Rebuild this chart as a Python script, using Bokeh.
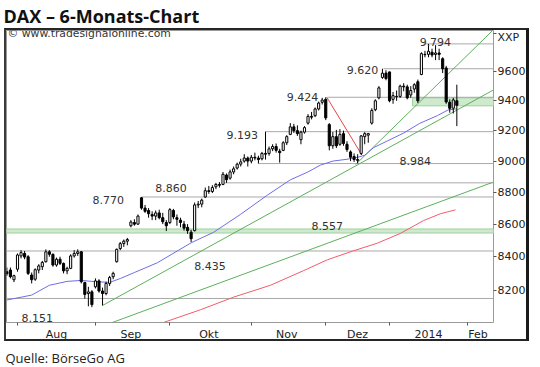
from bokeh.plotting import figure
from bokeh.layouts import column, row
from bokeh.models import Range1d, FixedTicker, NumeralTickFormatter, Label, Spacer
from bokeh.core.properties import value
from bokeh.embed import file_html
from bokeh.resources import INLINE

# ---- daily OHLC (trading-day index 0 = 29 Jul 2013) ----
opens = [8310, 8320, 8262, 8325, 8405, 8420, 8400, 8290, 8265, 8320, 8340, 8370, 8430, 8415, 8350, 8385,
         8360, 8315, 8330, 8405, 8420, 8430, 8245, 8180, 8190, 8220, 8255, 8195, 8180, 8240, 8280, 8370,
         8450, 8480, 8495, 8590, 8610, 8600, 8765, 8700, 8685, 8660, 8650, 8670, 8640, 8610, 8610, 8685,
         8640, 8625, 8600, 8580, 8550, 8560, 8720, 8725, 8770, 8810, 8805, 8835, 8850, 8850, 8910, 8890,
         8930, 8955, 8980, 9000, 9020, 9000, 9025, 9020, 9015, 9050, 9050, 9080, 9095, 9065, 9070, 9120,
         9175, 9225, 9200, 9140, 9190, 9250, 9295, 9300, 9345, 9390, 9410, 9240, 9100, 9160, 9110, 9180,
         9110, 9060, 9030, 9010, 9050, 9160, 9170, 9250, 9340, 9420, 9560, 9590, 9598, 9410, 9430, 9430,
         9500, 9495, 9440, 9480, 9530, 9580, 9720, 9720, 9735, 9720, 9730, 9690, 9625, 9390, 9350, 9400]
highs = [8335, 8335, 8292, 8420, 8440, 8435, 8410, 8305, 8330, 8355, 8375, 8445, 8440, 8420, 8395, 8400,
         8365, 8340, 8415, 8440, 8445, 8435, 8250, 8220, 8200, 8270, 8265, 8215, 8250, 8285, 8310, 8450,
         8490, 8505, 8515, 8625, 8630, 8660, 8770, 8720, 8700, 8680, 8685, 8690, 8670, 8625, 8700, 8695,
         8660, 8640, 8620, 8600, 8565, 8735, 8745, 8760, 8830, 8840, 8845, 8860, 8865, 8930, 8920, 8945,
         8965, 8990, 9015, 9045, 9030, 9040, 9055, 9035, 9060, 9193, 9095, 9110, 9115, 9080, 9130, 9170,
         9250, 9245, 9235, 9200, 9230, 9310, 9325, 9355, 9395, 9420, 9424, 9250, 9190, 9205, 9210, 9200,
         9130, 9070, 9050, 9045, 9170, 9190, 9185, 9350, 9410, 9500, 9620, 9610, 9600, 9460, 9470, 9510,
         9520, 9510, 9500, 9520, 9545, 9735, 9745, 9794, 9760, 9785, 9760, 9700, 9640, 9410, 9420, 9510]
lows = [8285, 8270, 8248, 8310, 8390, 8385, 8290, 8240, 8255, 8300, 8320, 8365, 8400, 8340, 8340, 8350,
        8300, 8295, 8325, 8395, 8405, 8240, 8150, 8105, 8100, 8210, 8185, 8110, 8170, 8225, 8265, 8365,
        8440, 8460, 8470, 8580, 8590, 8595, 8690, 8670, 8640, 8625, 8625, 8630, 8600, 8557, 8600, 8630,
        8590, 8580, 8560, 8540, 8490, 8555, 8700, 8705, 8765, 8790, 8795, 8820, 8830, 8845, 8860, 8880,
        8915, 8945, 8965, 8990, 8965, 8985, 9005, 8984, 9005, 9010, 9035, 9065, 9055, 8990, 9065, 9105,
        9170, 9185, 9165, 9110, 9180, 9240, 9275, 9290, 9335, 9375, 9270, 9070, 9080, 9085, 9100, 9100,
        9060, 9000, 8995, 8985, 9040, 9110, 9120, 9240, 9330, 9410, 9550, 9540, 9390, 9380, 9400, 9420,
        9465, 9410, 9420, 9455, 9385, 9575, 9700, 9700, 9700, 9680, 9680, 9590, 9380, 9320, 9315, 9230]
closes = [8297, 8280, 8286, 8411, 8425, 8398, 8300, 8262, 8322, 8345, 8366, 8430, 8415, 8350, 8385, 8360,
          8315, 8330, 8405, 8420, 8430, 8250, 8175, 8190, 8115, 8255, 8195, 8180, 8240, 8275, 8300, 8445,
          8480, 8495, 8505, 8613, 8600, 8650, 8700, 8680, 8665, 8650, 8670, 8640, 8615, 8590, 8690, 8645,
          8630, 8610, 8575, 8560, 8510, 8720, 8725, 8750, 8810, 8805, 8830, 8850, 8845, 8915, 8880, 8930,
          8950, 8980, 8995, 9020, 9000, 9025, 9020, 9010, 9050, 9045, 9080, 9095, 9070, 9055, 9120, 9160,
          9225, 9200, 9180, 9190, 9220, 9295, 9290, 9345, 9385, 9405, 9285, 9100, 9160, 9100, 9175, 9115,
          9075, 9025, 9010, 9005, 9165, 9180, 9180, 9335, 9400, 9488, 9589, 9552, 9400, 9435, 9428, 9500,
          9495, 9420, 9470, 9510, 9400, 9725, 9718, 9742, 9716, 9730, 9720, 9620, 9392, 9349, 9406, 9370]

# moving averages (index, value)
ma_blue_idx = [0, 7, 12, 17, 21, 24, 29, 32, 36, 42.5, 52, 58.3, 65.9, 73.6, 80, 85, 88.5, 92, 96, 99,
               101, 103.5, 107.5, 112, 116.5, 121.5, 124.5, 127]
ma_blue_val = [8142, 8171, 8229, 8252, 8258, 8252, 8246, 8269, 8305, 8364, 8485, 8549, 8660, 8783, 8879,
               8930, 8974, 9000, 9012, 9025, 9038, 9088, 9133, 9184, 9248, 9300, 9338, 9346]
ma_red_idx = [44.2, 54.65, 64, 74.4, 83.7, 90.5, 97.8, 104.6, 111.1, 117.6, 122.4, 126.6]
ma_red_val = [8011, 8085, 8159, 8229, 8316, 8382, 8436, 8483, 8543, 8622, 8665, 8689]

# trend lines
green_x0 = [27, 98.4, 28.7]
green_y0 = [8110, 8977, 8003]
green_x1 = [137.2, 137.1, 137.1]
green_y1 = [9472, 9889, 8863]
red_x0, red_y0, red_x1, red_y1 = [90.3], [9424], [100.2], [9040]

# horizontal levels
level_vals = [9794, 9620, 9424, 9193, 8984, 8860, 8770, 8435, 8151]
level_start = [117.6, 106.3, 90.5, 73, 71, 61.1, 38, -0.2, -0.2]
band_low = [8545, 9366]
band_high = [8570, 9420]
band_start = [-0.2, 114.5]

label_text = ["9.794", "9.620", "9.424", "9.193", "8.860", "8.770", "8.984", "8.557", "8.435", "8.151"]
label_idx = [116.5, 95.9, 79.0, 62.0, 41.9, 24.2, 110.8, 86.0, 52.9, 4.1]
label_val = [9805, 9609, 9428, 9172, 8826, 8751, 8998, 8586, 8346, 8039]

month_start_idx = [3, 25, 46, 69, 90, 108, 130]
month_label_idx = [14, 35, 57, 79, 99, 119, 133]
month_labels = ["Aug", "Sep", "Okt", "Nov", "Dez", "2014", "Feb"]
y_ticks = [8200, 8400, 8600, 8800, 9000, 9200, 9400, 9600]
symbol_tick = 9868
symbol_name = "XXP"

title_text = "DAX \u2013 6-Monats-Chart"
source_text = "Quelle: B\u00f6rseGo AG"
watermark_text = "\u00a9 www.tradesignalonline.com"

X_START, X_END = -0.105, 137.35


def text_strip(h):
    s = figure(width=534, height=h, x_range=Range1d(0, 534), y_range=Range1d(0, h), title=None,
               x_axis_type=None, y_axis_type=None, output_backend="svg", toolbar_location=None,
               min_border=0)
    s.outline_line_color = None
    s.grid.visible = False
    return s


# ---------------- title strip ----------------
pt = text_strip(28)
pt.text(x=[3], y=[13], text=[title_text], text_font=value("Open Sans"), text_font_style="bold",
        text_font_size="18px", text_color="#111111", text_baseline="middle")

# ---------------- main chart (canvas 525x313 + css border) ----------------
p = figure(width=525, height=313, y_axis_type="log", y_axis_location="right", title=None,
           x_range=Range1d(X_START, X_END), y_range=Range1d(8011, 9889),
           output_backend="svg", toolbar_location=None,
           min_border_left=0, min_border_right=38, min_border_top=0, min_border_bottom=15)
p.styles = {"border-top": "2px solid #262626", "border-left": "2px solid #3a3a3a",
            "border-bottom": "2px solid #262626", "border-right": "3px solid #1a1a1a"}
p.background_fill_color = "white"
p.border_fill_color = "white"
p.outline_line_color = "#9a9a9a"
p.outline_line_width = 1
p.xgrid.visible = False
p.ygrid.visible = False

p.quad(left=band_start, right=[X_END + 1] * len(band_start), bottom=band_low, top=band_high,
       fill_color="#cfe9cf", line_color="#9fd09f", line_width=1)
p.segment(x0=level_start, x1=[X_END + 1] * len(level_start), y0=level_vals, y1=level_vals,
          line_color="#a8a8a8", line_width=1)
p.segment(x0=green_x0, y0=green_y0, x1=green_x1, y1=green_y1, line_color="#5cb05c", line_width=1)
p.segment(x0=red_x0, y0=red_y0, x1=red_x1, y1=red_y1, line_color="#e04848", line_width=1)
p.line(ma_blue_idx, ma_blue_val, line_color="#6e6ee6", line_width=1)
p.line(ma_red_idx, ma_red_val, line_color="#f25c6c", line_width=1)

idx = list(range(len(closes)))
tops = [max(o, c) for o, c in zip(opens, closes)]
bots = [min(o, c) for o, c in zip(opens, closes)]
fills = ["white" if c >= o else "black" for o, c in zip(opens, closes)]
p.segment(x0=idx, x1=idx, y0=lows, y1=highs, line_color="black", line_width=1)
p.vbar(x=idx, width=0.6, top=tops, bottom=bots, fill_color=fills, line_color="black", line_width=1)

p.text(x=label_idx, y=label_val, text=label_text, text_font=value("DejaVu Sans"),
       text_font_size="11px", text_color="#333333", text_baseline="alphabetic", text_align="left")

p.add_layout(Label(x=1, y=289, x_units="screen", y_units="screen", text=watermark_text,
                   text_font="DejaVu Sans", text_font_size="10.8px", text_color="#333333",
                   text_baseline="alphabetic"))

xa = p.xaxis[0]
xa.ticker = FixedTicker(ticks=month_label_idx, minor_ticks=month_start_idx)
xa.major_label_overrides = {k: v for k, v in zip(month_label_idx, month_labels)}
xa.major_tick_line_color = None
xa.major_tick_out = 0
xa.major_tick_in = 0
xa.minor_tick_line_color = "#555555"
xa.minor_tick_out = 3
xa.minor_tick_in = 0
xa.axis_line_color = None
xa.major_label_standoff = 2
xa.major_label_text_font = "DejaVu Sans"
xa.major_label_text_font_size = "11px"
xa.major_label_text_color = "#222222"

ya = p.yaxis[0]
ya.ticker = FixedTicker(ticks=y_ticks + [symbol_tick])
ya.formatter = NumeralTickFormatter(format="0")
ya.major_label_overrides = {symbol_tick: symbol_name}
ya.minor_tick_line_color = None
ya.major_tick_line_color = "#555555"
ya.major_tick_out = 3
ya.major_tick_in = 0
ya.axis_line_color = None
ya.major_label_standoff = 1
ya.major_label_text_font = "DejaVu Sans"
ya.major_label_text_font_size = "11px"
ya.major_label_text_color = "#222222"

# ---------------- source strip ----------------
pq = text_strip(22)
pq.text(x=[5], y=[10], text=[source_text], text_font=value("Open Sans"),
        text_font_size="13px", text_color="#222222", text_baseline="middle")

layout = column(pt, row(Spacer(width=4, height=317), p, spacing=0), pq, spacing=0)
open("out.html", "w").write(file_html(layout, INLINE))
